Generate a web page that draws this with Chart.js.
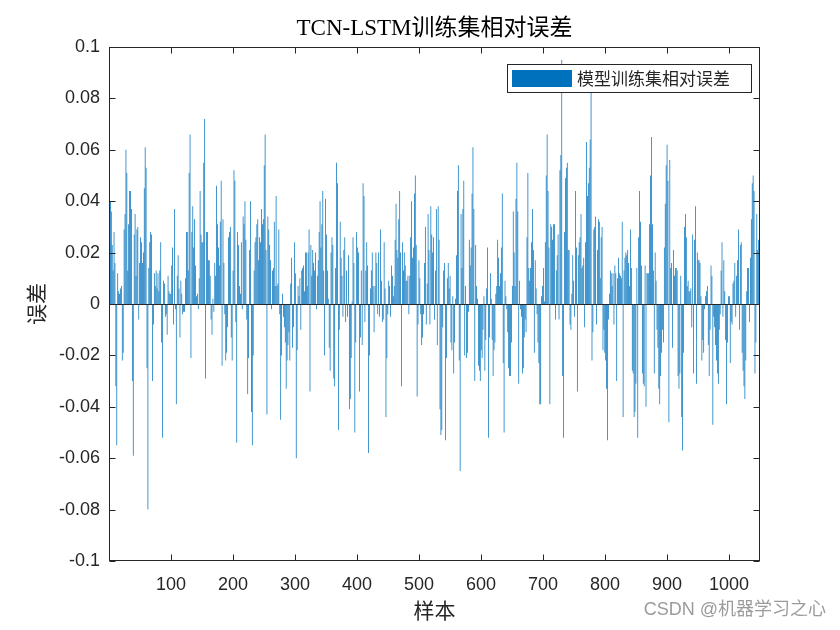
<!DOCTYPE html>
<html>
<head>
<meta charset="utf-8">
<script src="https://cdn.jsdelivr.net/npm/chart.js@4.4.1/dist/chart.umd.min.js"></script>
<style>html,body{margin:0;background:#fff;}</style>
</head>
<body>
<canvas id="canvas" width="840" height="630"></canvas>
<script>
// relative error of each training sample (left to right)
var trainRelError = [
  -0.071, 0.040, 0.036, 0.023, 0.013, 0.028, 0.016, -0.032, -0.055, 0.012,
  0.005, 0.004, 0.006, 0.007, -0.022, -0.019, 0.029, 0.035, 0.060, 0.051,
  0.013, 0.031, 0.044, 0.044, 0.037, -0.030, -0.059, 0.027, 0.035, 0.011,
  0.029, 0.030, -0.006, 0.016, 0.026, 0.024, 0.016, 0.020, 0.045, 0.061,
  0.053, -0.025, -0.080, 0.014, 0.024, 0.028, 0.027, -0.030, -0.008, 0.012,
  0.007, 0.013, 0.006, 0.012, 0.005, 0.013, 0.024, -0.015, -0.052, 0.009, 0.008,
  -0.005, -0.004, -0.012, 0.011, 0.005, 0.004, 0.004, 0.015, 0.022, -0.008,
  0.037, -0.002, -0.039, 0.011, 0.019, 0.006, -0.013, 0.009, 0.004, -0.004, -0.003,
  -0.003, 0.010, 0.028, 0.028, 0.013, 0.051, 0.066,

  -0.021, 0.028, 0.038, 0.022, 0.033, 0.015, 0.003, 0.004, -0.002, 0.010,
  0.044, 0.027, 0.024, 0.024, 0.055, 0.072, -0.029, 0.028, 0.028, 0.017,
  0.017, 0.011, -0.006, -0.012, 0.002, -0.003, 0.016, 0.011, 0.046, 0.031,
  0.022, 0.015, 0.032, 0.048, -0.024, 0.033, 0.016, -0.004, -0.022, -0.019,
  -0.009, 0.026, 0.028, 0.030, -0.013, -0.022, 0.013, 0.052, 0.048, -0.007,
  -0.054, 0.028, 0.023, 0.007, 0.004, 0.024, -0.002, 0.034, 0.031, 0.040,
  0.025, -0.006, -0.035, -0.021, 0.021, 0.040, -0.042, -0.055, -0.020, 0.013,
  0.024, 0.026, 0.031, 0.033, 0.017, 0.026, 0.024, 0.037, 0.031, 0.033,
  0.054, 0.066, 0.021, -0.043, 0.034, 0.029, 0.023, 0.017, -0.002, 0.013,
  0.014, 0.032, 0.007,

  0.042, 0.007, 0.008, 0.029, -0.004, -0.045, -0.020, 0.004, -0.005, -0.009,
  -0.015, -0.033, -0.022, -0.016, -0.011, -0.022, 0.008, 0.018, -0.017, -0.009,
  0.024, 0.012, -0.060, -0.018, 0.007, 0.003, 0.010, -0.010, 0.013, 0.014,
  0.015, 0.005, 0.020, 0.020, 0.007, 0.020, 0.029, -0.034, 0.023, 0.011,
  0.021, 0.016, 0.013, 0.020, -0.002, 0.011, 0.017, 0.028, 0.040, 0.022,
  0.031, 0.044, 0.013, -0.020, 0.041, 0.027, 0.013, 0.002, -0.017, -0.026,
  0.020, 0.026, 0.023, -0.029, -0.032, 0.014, 0.055, 0.047, -0.049, -0.010,
  0.032, 0.018, 0.011, -0.005, 0.021, 0.026, -0.007, 0.013, -0.005, 0.019,
  -0.041, -0.037, -0.021, 0.001, 0.026, 0.016, -0.050, -0.015, 0.028, 0.022,
  0.020, -0.034, -0.013,

  0.013, -0.016, 0.047, 0.042, -0.007, 0.013, 0.024, 0.015, -0.058,
  -0.020, 0.006, 0.013, 0.020, 0.007, -0.011, 0.007, 0.020, 0.016, -0.004,
  0.020, -0.005, 0.029, 0.009, -0.007, -0.006, 0.024, 0.006, -0.044, -0.021,
  -0.004, 0.009, 0.007, -0.005, 0.015, 0.011, 0.003, 0.007, 0.025,
  0.039, 0.021, 0.018, 0.033, 0.044, 0.020, -0.032, 0.024, 0.013, 0.020,
  0.015, 0.009, 0.009, 0.011, -0.004, 0.011, 0.026, 0.040, 0.018, 0.022,
  0.043, 0.050, 0.023, -0.036, -0.008, 0.017, 0.010, -0.004, -0.016,
  -0.013, -0.004, 0.016, 0.030, -0.008, 0.008, 0.035, 0.021, -0.008,
  0.038, 0.027, 0.020, 0.026, -0.006, 0.013, 0.037, -0.016, 0.038, 0.025,
  -0.041, -0.051, -0.049, -0.009, 0.013, 0.016, -0.053, -0.021,

  0.010, 0.016, 0.006, 0.011, -0.015, -0.018, 0.003, -0.027, -0.015, 0.002,
  0.019, 0.044, 0.054, -0.022, -0.065, 0.035, 0.014, 0.037, 0.048, -0.020,
  0.007, -0.021, -0.019, -0.003, 0.025, 0.015, 0.022, 0.043, 0.061, 0.037,
  -0.030, 0.023, 0.007, 0.002, -0.024, -0.026, -0.030, -0.018, -0.021, -0.010,
  0.003, -0.026, -0.014, 0.006, 0.022, -0.052, -0.013, 0.012, 0.002, -0.014,
  -0.028, -0.018, -0.015, 0.004, 0.007, 0.025, 0.018, 0.007, 0.012, 0.022,
  0.043, -0.023, -0.050, 0.009, 0.003, -0.002, -0.011, -0.025, -0.028, -0.028,
  -0.015, 0.007, 0.036, 0.020, 0.007, 0.041, 0.055, 0.036, -0.031, 0.009,
  -0.002, -0.005, -0.027, -0.025, -0.013, -0.006, -0.011, 0.026, 0.051, 0.014,

  0.009, 0.014, 0.024, 0.037, 0.021, -0.019, 0.017, 0.006, -0.004, -0.015,
  -0.023, -0.039, -0.039, 0.003, 0.007, 0.014, 0.001, 0.024, 0.050, 0.066,
  0.044, 0.022, -0.039, 0.031, 0.030, 0.025, 0.031, 0.031, -0.006, 0.013,
  0.019, 0.027, -0.006, 0.052, 0.058, 0.095, -0.028, -0.052, 0.028, 0.049,
  0.053, 0.055, 0.021, 0.021, -0.008, -0.010, 0.004, 0.019, 0.009, -0.005,
  0.044, 0.022, -0.034, 0.019, 0.024, 0.026, 0.035, 0.014, 0.015, 0.018,
  -0.009, 0.024, 0.063, 0.042, 0.047, 0.053, 0.064, 0.084, -0.022, -0.011,
  0.029, 0.030, 0.034, -0.008, 0.021, 0.033, 0.032, 0.010, 0.026, 0.030,
  -0.018, -0.010, -0.019, -0.022, -0.033, -0.053, -0.006, 0.004, 0.013, 0.012,
  0.007, 0.012,

  -0.008, 0.015, 0.012, -0.030, 0.010, 0.018, 0.012, 0.011, 0.010, 0.032,
  -0.044, 0.013, 0.018, 0.020, 0.019, 0.021, 0.016, 0.007, 0.029, 0.014,
  -0.026, -0.027, -0.044, -0.042, -0.031, 0.014, -0.052, 0.026, 0.044, 0.032,
  0.015, -0.027, -0.031, -0.032, 0.015, -0.040, 0.012, 0.012, 0.012, 0.031,
  0.050, 0.065, 0.031, 0.013, -0.027, 0.020, 0.009, -0.010, -0.017, -0.033,
  -0.039, -0.028, -0.019, -0.010, -0.015, 0.022, 0.039, 0.054, 0.062, 0.048,
  -0.046, 0.056, 0.014, 0.016, -0.017, 0.021, 0.011, 0.014, 0.014, 0.013,
  -0.028, -0.033, -0.027, 0.011, -0.044, -0.057, -0.019, 0.030, 0.035, 0.026,
  0.007, 0.009, 0.005, 0.005, 0.006, -0.009, 0.027, -0.027, 0.025, 0.038,
  -0.031, 0.020, 0.017,

  0.017, 0.016, 0.003, -0.022, -0.014, -0.019, -0.002, 0.003, 0.005, 0.007,
  -0.016, -0.028, -0.010, 0.015, 0.011, -0.047, -0.005, -0.009, -0.016, -0.022,
  -0.027, -0.031, -0.010, -0.004, 0.013, 0.024, -0.005, 0.017, 0.005, -0.014,
  -0.039, -0.015, 0.003, 0.003, -0.023, -0.007, -0.008, 0.008, 0.009, 0.016,
  -0.005, 0.011, 0.017, 0.029, -0.010, 0.023, 0.024, -0.019, -0.026, -0.032,
  -0.037, -0.022, 0.005, 0.014, 0.014, -0.007, 0.018, 0.033, 0.047, 0.050,
  0.044, -0.027, -0.015, 0.035, 0.021, 0.025, 0.026
];

var sampleCount = 1050;
var xTicks = [100, 200, 300, 400, 500, 600, 700, 800, 900, 1000];
var yTicks = [-0.1, -0.08, -0.06, -0.04, -0.02, 0, 0.02, 0.04, 0.06, 0.08, 0.1];

var titleText = 'TCN-LSTM训练集相对误差';
var seriesName = '模型训练集相对误差';
var xTitle = '样本';
var yTitle = '误差';

var barColor = '#0072BD';
var axisColor = '#262626';
var sansFont = '"Liberation Sans", "Noto Sans CJK SC", sans-serif';
var cjkFont = '"Noto Sans CJK SC", sans-serif';
var serifFont = '"Liberation Serif", "Noto Sans CJK SC", serif';

// spread the readings over the sample index range
var step = sampleCount / trainRelError.length;
var points = trainRelError.map(function (v, i) {
  return { x: (i + 0.5) * step, y: v };
});

var matlabLook = {
  id: 'matlabLook',
  afterDatasetsDraw: function (chart) {
    var ctx = chart.ctx, a = chart.chartArea;
    var xs = chart.scales.x, ys = chart.scales.y;
    var L = Math.round(a.left) + 0.5, R = Math.round(a.right) - 0.5;
    var T = Math.round(a.top) + 0.5, B = Math.round(a.bottom) - 0.5;
    ctx.save();
    ctx.strokeStyle = axisColor;
    ctx.lineWidth = 1;

    // bar baseline
    var y0 = Math.round(ys.getPixelForValue(0)) + 0.5;
    ctx.beginPath();
    ctx.moveTo(L, y0); ctx.lineTo(R, y0);
    ctx.stroke();

    // box
    ctx.strokeRect(L, T, R - L, B - T);

    // inward ticks on all four sides
    var tl = 6;
    ctx.beginPath();
    xTicks.forEach(function (v) {
      var px = Math.round(xs.getPixelForValue(v)) + 0.5;
      ctx.moveTo(px, B); ctx.lineTo(px, B - tl);
      ctx.moveTo(px, T); ctx.lineTo(px, T + tl);
    });
    yTicks.forEach(function (v) {
      var py = Math.round(ys.getPixelForValue(v)) + 0.5;
      ctx.moveTo(L, py); ctx.lineTo(L + tl, py);
      ctx.moveTo(R, py); ctx.lineTo(R - tl, py);
    });
    ctx.stroke();

    // legend
    var lx = 507, ly = 64, lw = 244, lh = 28;
    ctx.fillStyle = '#fff';
    ctx.fillRect(lx, ly, lw, lh);
    ctx.strokeRect(lx + 0.5, ly + 0.5, lw, lh);
    ctx.fillStyle = barColor;
    ctx.fillRect(lx + 5, ly + 6, 60, 17);
    ctx.fillStyle = axisColor;
    ctx.font = '17px ' + cjkFont;
    ctx.textAlign = 'left';
    ctx.textBaseline = 'middle';
    ctx.fillText(seriesName, lx + 70, ly + lh / 2 + 1);

    // title and axis titles
    var cx = (a.left + a.right) / 2;
    ctx.fillStyle = '#000';
    ctx.textAlign = 'center';
    ctx.font = '23px ' + serifFont;
    ctx.fillText(titleText, cx, 29);

    ctx.fillStyle = axisColor;
    ctx.font = '21px ' + cjkFont;
    ctx.fillText(xTitle, cx, 610);
    ctx.save();
    ctx.translate(36, (a.top + a.bottom) / 2);
    ctx.rotate(-Math.PI / 2);
    ctx.fillText(yTitle, 0, 0);
    ctx.restore();

    // watermark
    ctx.fillStyle = 'rgba(130,130,130,0.8)';
    ctx.textAlign = 'right';
    ctx.font = '18px ' + sansFont;
    ctx.fillText('CSDN @机器学习之心', 826, 610);
    ctx.restore();
  }
};

var config = {
  type: 'bar',
  data: {
    datasets: [{
      label: seriesName,
      data: points,
      backgroundColor: barColor,
      borderWidth: 0,
      barPercentage: 0.8,
      categoryPercentage: 1.0
    }]
  },
  options: {
    responsive: false,
    animation: false,
    devicePixelRatio: 1,
    layout: { padding: { top: 47, right: 80, left: 0, bottom: 0 } },
    plugins: {
      legend: { display: false },
      title: { display: false },
      tooltip: { enabled: false }
    },
    scales: {
      x: {
        type: 'linear',
        min: 0,
        max: sampleCount,
        offset: false,
        grid: { display: false, drawTicks: false },
        border: { display: false },
        afterBuildTicks: function (s) {
          s.ticks = xTicks.map(function (v) { return { value: v }; });
        },
        afterFit: function (s) { s.height = 69; },
        ticks: {
          autoSkip: false,
          maxRotation: 0,
          padding: 13,
          color: axisColor,
          font: { family: sansFont, size: 18 },
          callback: function (v) { return String(v); }
        }
      },
      y: {
        min: -0.1,
        max: 0.1,
        grid: { display: false, drawTicks: false },
        border: { display: false },
        afterBuildTicks: function (s) {
          s.ticks = yTicks.map(function (v) { return { value: v }; });
        },
        afterFit: function (s) { s.width = 109; },
        ticks: {
          padding: 9,
          color: axisColor,
          font: { family: sansFont, size: 18 },
          callback: function (v) { return String(+v.toFixed(2)); }
        }
      }
    }
  },
  plugins: [matlabLook]
};

window.onload = function () {
  window.myBar = new Chart(document.getElementById('canvas'), config);
};
</script>
</body>
</html>
